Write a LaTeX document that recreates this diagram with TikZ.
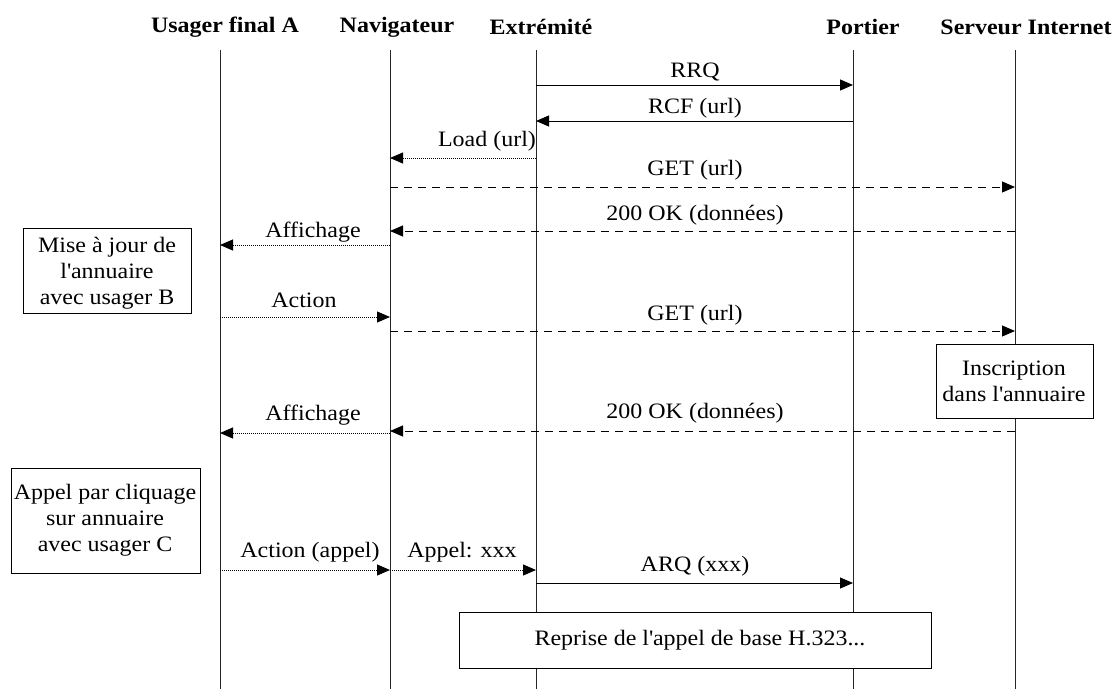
\documentclass[tikz,border=0pt]{standalone}
\usepackage{fontspec}
\setmainfont[FakeStretch=1.09]{Liberation Serif}
\usetikzlibrary{arrows.meta}
\newcommand{\aq}{\textquotesingle}
\begin{document}
\begin{tikzpicture}[x=1pt,y=-1pt,
  every node/.style={font=\fontsize{22}{26}\selectfont, inner sep=0pt},
  head/.style={font=\fontsize{22}{26}\selectfont\bfseries},
  life/.style={line width=1pt, draw=black!85},
  tip/.style={-{Triangle[length=13pt,width=11pt]}},
  solidmsg/.style={tip, line width=1pt},
  dottedmsg/.style={tip, line width=1pt, dash pattern=on 1pt off 1pt},
  dashedmsg/.style={tip, line width=1pt, dash pattern=on 8pt off 6pt},
  notebox/.style={draw, fill=white, line width=1pt, align=center},
  lbl/.style={anchor=base}]
\useasboundingbox (0,0) rectangle (1112,689);

% headers
\node[head] (hA) at (225,27) {Usager final A};
\node[head] (hN) at (397,27) {Navigateur};
\node[head] (hE) at (541,27) {Extrémité};
\node[head] (hP) at (863,27) {Portier};
\node[head] (hS) at (1026,27) {Serveur Internet};

% lifelines
\coordinate (lA) at (220,50);
\coordinate (lN) at (390,50);
\coordinate (lE) at (536,50);
\coordinate (lP) at (853,50);
\coordinate (lS) at (1015,50);
\coordinate (bot) at (0,689);
\foreach \l in {lA,lN,lE,lP,lS} \draw[life] (\l) -- (\l|-bot);

% boxes
\path[notebox] (23,228) rectangle (191,313);
\node (bB) at (107,273) [align=center] {Mise à jour de\\l\aq annuaire\\avec usager B};
\path[notebox] (936,344) rectangle (1093,418);
\node (bI) at (1014,381) [align=center] {Inscription\\dans l\aq annuaire};
\path[notebox] (11,468) rectangle (200,573);
\node (bC) at (105,520) [align=center] {Appel par cliquage\\sur annuaire\\avec usager C};
\path[notebox] (459,612) rectangle (931,668);
\node (bR) at (700,640) {Reprise de l\aq appel de base H.323...};

% message levels
\coordinate (m1) at (0,85);
\coordinate (m2) at (0,121);
\coordinate (m3) at (0,158);
\coordinate (m4) at (0,187);
\coordinate (m5) at (0,231);
\coordinate (m6) at (0,245);
\coordinate (m7) at (0,317);
\coordinate (m8) at (0,331);
\coordinate (m9) at (0,431);
\coordinate (m10) at (0,433);
\coordinate (m11) at (0,570);
\coordinate (m12) at (0,583);

\draw[solidmsg] (lE|-m1) -- (lP|-m1);
\node[lbl] (t1) at (695,77) {RRQ};
\draw[solidmsg] (lP|-m2) -- (lE|-m2);
\node[lbl] (t2) at (695,113) {RCF (url)};
\draw[dottedmsg] (lE|-m3) -- (lN|-m3);
\node[lbl] (t3) at (487,146) {Load (url)};
\draw[dashedmsg] (lN|-m4) -- (lS|-m4);
\node[lbl] (t4) at (695,175) {GET (url)};
\draw[dashedmsg] (lS|-m5) -- (lN|-m5);
\node[lbl] (t5) at (695,220) {200 OK (données)};
\draw[dottedmsg] (lN|-m6) -- (lA|-m6);
\node[lbl] (t6) at (313,237) {Affichage};
\draw[dottedmsg] (lA|-m7) -- (lN|-m7);
\node[lbl] (t7) at (304,307) {Action};
\draw[dashedmsg] (lN|-m8) -- (lS|-m8);
\node[lbl] (t8) at (695,320) {GET (url)};
\draw[dashedmsg] (lS|-m9) -- (lN|-m9);
\node[lbl] (t9) at (695,418) {200 OK (données)};
\draw[dottedmsg] (lN|-m10) -- (lA|-m10);
\node[lbl] (t10) at (313,420) {Affichage};
\draw[dottedmsg] (lA|-m11) -- (lN|-m11);
\node[lbl] (t11) at (310,557) {Action (appel)};
\draw[dottedmsg] (lN|-m11) -- (lE|-m11);
\node[lbl] (t12) at (462,557) {Appel: xxx};
\draw[solidmsg] (lE|-m12) -- (lP|-m12);
\node[lbl] (t13) at (695,571) {ARQ (xxx)};
\end{tikzpicture}
\end{document}
